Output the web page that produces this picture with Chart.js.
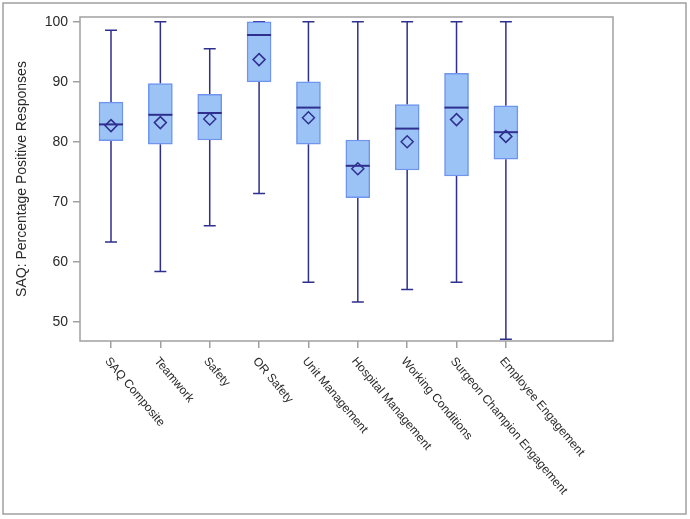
<!DOCTYPE html>
<html>
<head>
<meta charset="utf-8">
<script src="https://cdn.jsdelivr.net/npm/chart.js@4"></script>
<style>
  body { margin: 0; background: #fff; }
  canvas { display: block; }
</style>
</head>
<body>
<canvas id="myChart" width="690" height="519"></canvas>
<script>
// data
const categories = ['SAQ Composite', 'Teamwork', 'Safety', 'OR Safety', 'Unit Management',
  'Hospital Management', 'Working Conditions', 'Surgeon Champion Engagement', 'Employee Engagement'];
const minValues    = [63.3, 58.4, 66.0, 71.4, 56.6, 53.3, 55.4, 56.6, 47.1];
const q1Values     = [80.2, 79.6, 80.3, 90.0, 79.6, 70.7, 75.3, 74.3, 77.1];
const medianValues = [82.9, 84.5, 84.8, 97.8, 85.7, 76.0, 82.2, 85.7, 81.6];
const q3Values     = [86.6, 89.7, 87.9, 100, 90.0, 80.3, 86.2, 91.4, 86.0];
const maxValues    = [98.6, 100, 95.5, 100, 100, 100, 100, 100, 100];
const meanValues   = [82.7, 83.2, 83.8, 93.7, 84.0, 75.5, 80.0, 83.7, 80.9];
const yTicks = [50, 60, 70, 80, 90, 100];

const lineColor = '#2f2f8f';
const frameColor = '#a0a0a0';
const textColor = '#2a2a2a';
const fontFamily = '"Liberation Sans", Arial, sans-serif';

// whiskers, caps, medians, frame and rotated labels
const boxExtras = {
  id: 'boxExtras',
  beforeDatasetsDraw(chart) {
    const ctx = chart.ctx;
    const x = chart.scales.x, y = chart.scales.y;
    ctx.save();
    ctx.strokeStyle = lineColor;
    ctx.lineWidth = 1.5;
    categories.forEach((c, i) => {
      const px = x.getPixelForValue(i);
      const yMin = y.getPixelForValue(minValues[i]);
      const yMax = y.getPixelForValue(maxValues[i]);
      const yQ1 = y.getPixelForValue(q1Values[i]);
      const yQ3 = y.getPixelForValue(q3Values[i]);
      ctx.beginPath();
      ctx.moveTo(px, yQ1); ctx.lineTo(px, yMin);
      ctx.moveTo(px, yQ3); ctx.lineTo(px, yMax);
      ctx.moveTo(px - 6, yMin); ctx.lineTo(px + 6, yMin);
      ctx.moveTo(px - 6, yMax); ctx.lineTo(px + 6, yMax);
      ctx.stroke();
    });
    ctx.restore();
  },
  afterDatasetDraw(chart, args) {
    if (args.index !== 0) return;
    const ctx = chart.ctx;
    const x = chart.scales.x, y = chart.scales.y;
    ctx.save();
    ctx.strokeStyle = lineColor;
    ctx.lineWidth = 2;
    categories.forEach((c, i) => {
      const px = x.getPixelForValue(i);
      const py = y.getPixelForValue(medianValues[i]);
      ctx.beginPath();
      ctx.moveTo(px - 12, py); ctx.lineTo(px + 12, py);
      ctx.stroke();
    });
    ctx.restore();
  },
  afterDraw(chart) {
    const ctx = chart.ctx;
    const a = chart.chartArea;
    const x = chart.scales.x;
    ctx.save();
    ctx.strokeStyle = frameColor;
    ctx.lineWidth = 1.5;
    ctx.strokeRect(a.left, a.top, a.right - a.left, a.bottom - a.top);
    ctx.strokeRect(3, 3, 683, 511);
    ctx.fillStyle = textColor;
    ctx.font = '12px ' + fontFamily;
    ctx.textAlign = 'left';
    ctx.textBaseline = 'middle';
    categories.forEach((c, i) => {
      const px = x.getPixelForValue(i);
      ctx.save();
      ctx.translate(px - 4, a.bottom + 18);
      ctx.rotate(50 * Math.PI / 180);
      ctx.fillText(c, 0, 0);
      ctx.restore();
    });
    ctx.restore();
  }
};

new Chart(document.getElementById('myChart'), {
  type: 'bar',
  data: {
    datasets: [
      {
        label: 'Box',
        data: categories.map((c, i) => ({ x: i, y: [q1Values[i], q3Values[i]] })),
        backgroundColor: '#9bc3f5',
        borderColor: '#6f95ee',
        borderWidth: 1.5,
        borderSkipped: false,
        barThickness: 24,
        grouped: false,
        order: 2
      },
      {
        type: 'line',
        label: 'Mean',
        data: categories.map((c, i) => ({ x: i, y: meanValues[i] })),
        showLine: false,
        pointStyle: 'rectRot',
        pointRadius: 6,
        pointBorderWidth: 1.5,
        pointBorderColor: lineColor,
        pointBackgroundColor: 'rgba(0,0,0,0)',
        order: 1
      }
    ]
  },
  options: {
    responsive: false,
    animation: false,
    layout: { padding: { top: 17, right: 77, left: 0, bottom: 0 } },
    plugins: {
      legend: { display: false },
      tooltip: { enabled: false }
    },
    scales: {
      x: {
        type: 'linear',
        offset: false,
        min: -0.628,
        max: 10.17,
        afterBuildTicks: (scale) => { scale.ticks = categories.map((c, i) => ({ value: i })); },
        afterFit: (scale) => { scale.height = 178; },
        ticks: { display: false },
        grid: { offset: false, drawOnChartArea: false, drawTicks: true, tickLength: 7, color: frameColor, lineWidth: 1.5 },
        border: { display: false }
      },
      y: {
        min: 46.8,
        max: 100.8,
        afterBuildTicks: (scale) => { scale.ticks = yTicks.map(v => ({ value: v })); },
        afterFit: (scale) => { scale.width = 80; },
        ticks: { color: textColor, font: { size: 14, family: fontFamily }, padding: 5 },
        grid: { drawOnChartArea: false, drawTicks: true, tickLength: 7, color: frameColor, lineWidth: 1.5 },
        border: { display: false },
        title: {
          display: true,
          text: 'SAQ: Percentage Positive Responses',
          color: textColor,
          font: { size: 14, family: fontFamily },
          padding: { top: 14, bottom: 0 }
        }
      }
    }
  },
  plugins: [boxExtras]
});
</script>
</body>
</html>
